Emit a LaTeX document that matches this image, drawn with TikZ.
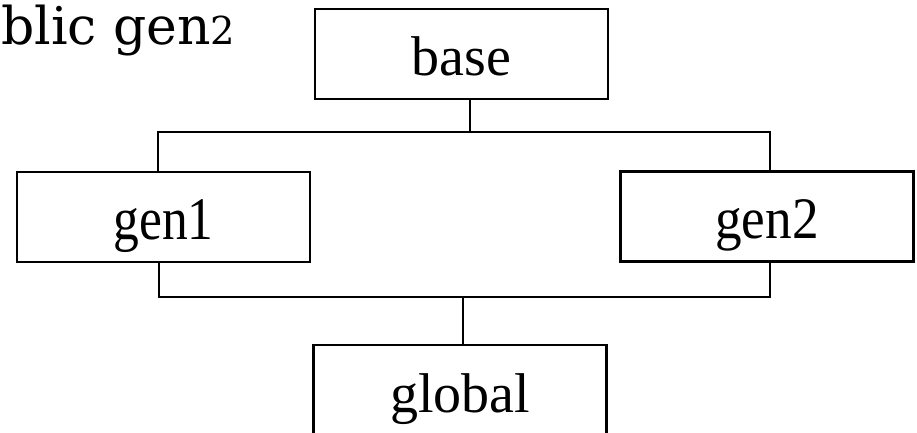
\documentclass[tikz,border=0pt]{standalone}
\usepackage{fontspec}
\newfontfamily\boxfont{Liberation Serif}
\newfontfamily\titlefont{DejaVu Serif}
\begin{document}
\begin{tikzpicture}[x=1pt,y=-1pt,
  box/.style={draw=black, line width=2.6pt, inner sep=0pt, minimum width=293pt, minimum height=90pt,
    font=\boxfont\fontsize{56}{60}\selectfont, text height=50pt, text depth=6pt},
  link/.style={draw=black, line width=2.2pt}]
\useasboundingbox[fill=white] (0,0) rectangle (917,433);
\clip (0,0) rectangle (917,433);
\node[anchor=base west, inner sep=0pt, font=\titlefont\fontsize{52}{60}\selectfont] (title) at (1,45) {blic gen\scalebox{0.74}{2}};
\node[box] (base) at (461.5,54) {base};
\node[box] (gen1) at (163.5,217) {\scalebox{0.92}[1.08]{gen1}};
\node[box] (gen2) at (767,216.5) {\scalebox{0.95}[1.05]{gen2}};
\node[box] (global) at (460,390) {global};
\coordinate (j1) at (470,132);
\coordinate (a1) at (158,132);
\coordinate (a2) at (770,132);
\coordinate (j2) at (463,297);
\coordinate (b1) at (159,297);
\coordinate (b2) at (770,297);
\draw[link] (base.south -| j1) -- (j1);
\draw[link] (gen1.north -| a1) -- (a1) -- (a2) -- (gen2.north -| a2);
\draw[link] (gen1.south -| b1) -- (b1) -- (b2) -- (gen2.south -| b2);
\draw[link] (j2) -- (global.north -| j2);
\end{tikzpicture}
\end{document}
